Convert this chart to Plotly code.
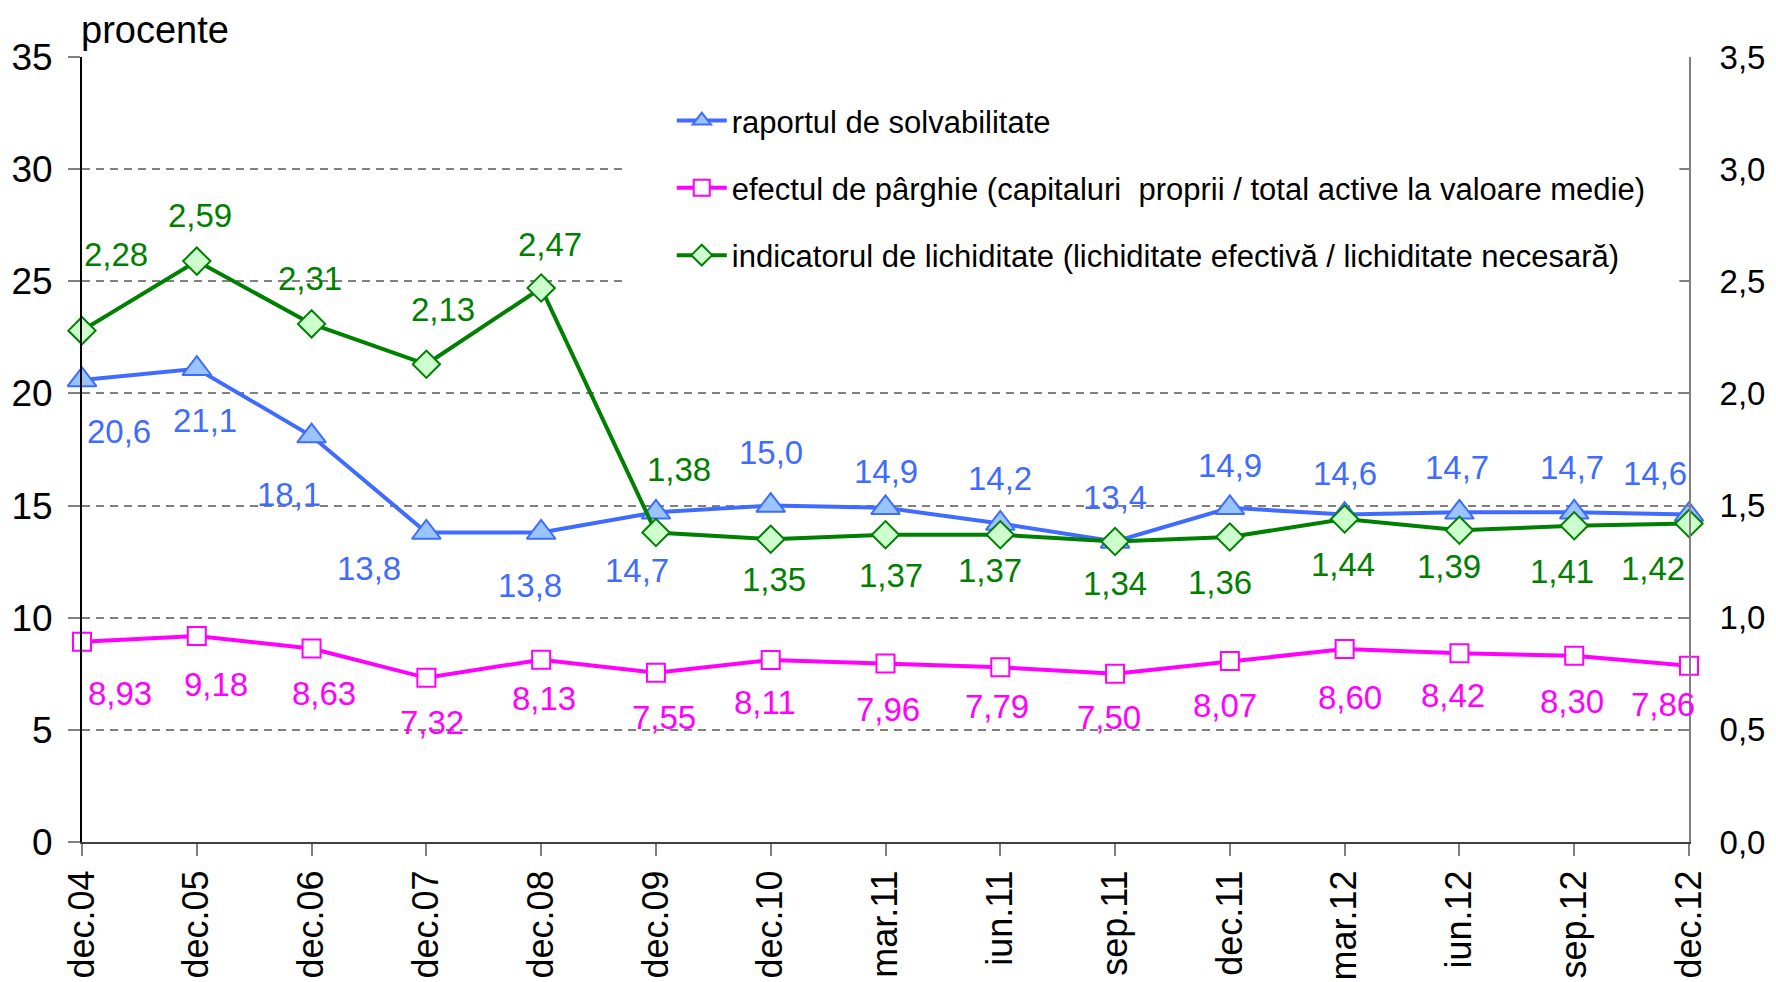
import plotly.graph_objects as go

categories = ["dec.04", "dec.05", "dec.06", "dec.07", "dec.08", "dec.09", "dec.10",
              "mar.11", "iun.11", "sep.11", "dec.11", "mar.12", "iun.12", "sep.12", "dec.12"]
solvabilitate = [20.6, 21.1, 18.1, 13.8, 13.8, 14.7, 15.0, 14.9, 14.2, 13.4, 14.9, 14.6, 14.7, 14.7, 14.6]
parghie = [8.93, 9.18, 8.63, 7.32, 8.13, 7.55, 8.11, 7.96, 7.79, 7.50, 8.07, 8.60, 8.42, 8.30, 7.86]
lichiditate = [2.28, 2.59, 2.31, 2.13, 2.47, 1.38, 1.35, 1.37, 1.37, 1.34, 1.36, 1.44, 1.39, 1.41, 1.42]

left_ticks = [0, 5, 10, 15, 20, 25, 30, 35]
right_ticks = [0.0, 0.5, 1.0, 1.5, 2.0, 2.5, 3.0, 3.5]
right_ticktext = ["0,0", "0,5", "1,0", "1,5", "2,0", "2,5", "3,0", "3,5"]

names = ["raportul de solvabilitate",
         "efectul de pârghie (capitaluri  proprii / total active la valoare medie)",
         "indicatorul de lichiditate (lichiditate efectivă / lichiditate necesară)"]

# label offsets (pixels, dx right, dy down)
off_solv = [(37, 52), (8, 52), (-23, 58), (-57, 36), (-11, 53), (-19, 58), (0, -53), (0, -36),
            (0, -45), (0, -44), (0, -42), (0, -41), (-2, -45), (-2, -45), (-34, -41)]
off_parg = [(38, 52), (19, 48), (12, 45), (6, 45), (3, 39), (8, 45), (-6, 42), (2, 46),
            (-3, 39), (-6, 44), (-5, 44), (5, 48), (-6, 42), (-2, 46), (-26, 39)]
off_lich = [(34, -76), (3, -46), (-2, -45), (17, -55), (9, -44), (23, -63), (3, 40), (5, 41),
            (-10, 36), (0, 42), (-10, 46), (-2, 45), (-10, 36), (-12, 46), (-36, 45)]

FONT = "Liberation Sans, Arial, sans-serif"
BLUE = "#3F6CFF"
PINK = "#FF00FF"
GREEN = "#008000"

fig = go.Figure()
fig.add_trace(go.Scatter(
    x=categories, y=solvabilitate, name=names[0], mode="lines+markers", legendgroup="a",
    line=dict(color=BLUE, width=4),
    marker=dict(symbol="triangle-up", size=25, color="#99C4FF", line=dict(color=BLUE, width=2)),
    cliponaxis=False))
fig.add_trace(go.Scatter(
    x=categories, y=parghie, name=names[1], mode="lines+markers", legendgroup="b",
    line=dict(color=PINK, width=4),
    marker=dict(symbol="square", size=18, color="white", line=dict(color=PINK, width=2)),
    cliponaxis=False))
fig.add_trace(go.Scatter(
    x=categories, y=lichiditate, name=names[2], mode="lines+markers", legendgroup="c",
    yaxis="y2",
    line=dict(color=GREEN, width=4),
    marker=dict(symbol="diamond", size=21, color="#CCFFCC", line=dict(color=GREEN, width=2)),
    cliponaxis=False))

annotations = []
def fmt(v, d):
    return f"{v:.{d}f}".replace(".", ",")

LBL = 33
for c, v, (dx, dy) in zip(categories, solvabilitate, off_solv):
    annotations.append(dict(x=c, y=v, xref="x", yref="y", text=fmt(v, 1), showarrow=False,
                            xshift=dx, yshift=-dy, font=dict(family=FONT, size=LBL, color=BLUE)))
for c, v, (dx, dy) in zip(categories, parghie, off_parg):
    annotations.append(dict(x=c, y=v, xref="x", yref="y", text=fmt(v, 2), showarrow=False,
                            xshift=dx, yshift=-dy, font=dict(family=FONT, size=LBL, color=PINK)))
for c, v, (dx, dy) in zip(categories, lichiditate, off_lich):
    annotations.append(dict(x=c, y=v, xref="x", yref="y2", text=fmt(v, 2), showarrow=False,
                            xshift=dx, yshift=-dy, font=dict(family=FONT, size=LBL, color=GREEN)))
annotations.append(dict(x=0, y=1, xref="paper", yref="paper", text="procente", showarrow=False,
                        xanchor="left", yanchor="bottom", yshift=4, xshift=-3,
                        font=dict(family=FONT, size=38, color="black")))

fig.update_layout(
    width=1768, height=974,
    margin=dict(l=74, r=87, t=49, b=140, autoexpand=False),
    paper_bgcolor="white", plot_bgcolor="white",
    font=dict(family=FONT, color="black"),
    showlegend=True,
    legend=dict(x=0.367, y=0.953, xanchor="left", yanchor="top", bgcolor="white",
                font=dict(family=FONT, size=31, color="black"), tracegroupgap=24,
                itemwidth=50),
    annotations=annotations,
    shapes=[dict(type="rect", xref="paper", yref="y", x0=0.339, x1=0.994, y0=23.5, y1=33,
                 fillcolor="white", line=dict(width=0), layer="above")],
    xaxis=dict(type="category", range=[0, 14], showline=True, linecolor="#404040", linewidth=2,
               ticks="outside", ticklen=12, tickcolor="#808080", tickwidth=1.5, automargin=False,
               tickangle=-90, tickfont=dict(family=FONT, size=36), showgrid=False, zeroline=False),
    yaxis=dict(range=[0, 35], tickvals=left_ticks, showline=True, linecolor="black", linewidth=2,
               ticks="outside", ticklen=12, tickcolor="#808080", tickwidth=1.5, automargin=False,
               showgrid=True, gridcolor="#808080", gridwidth=1.5, griddash="8px,6px",
               tickfont=dict(family=FONT, size=37), zeroline=False, ticklabelstandoff=8),
    yaxis2=dict(range=[0, 3.5], tickvals=right_ticks, ticktext=right_ticktext, overlaying="y",
                side="right", showline=True, linecolor="#808080", linewidth=2, automargin=False,
                ticks="inside", ticklen=8, tickcolor="#808080", tickwidth=1.5, showgrid=False,
                zeroline=False, tickfont=dict(family=FONT, size=33), ticklabelstandoff=22),
)

fig.write_html("out.html")
